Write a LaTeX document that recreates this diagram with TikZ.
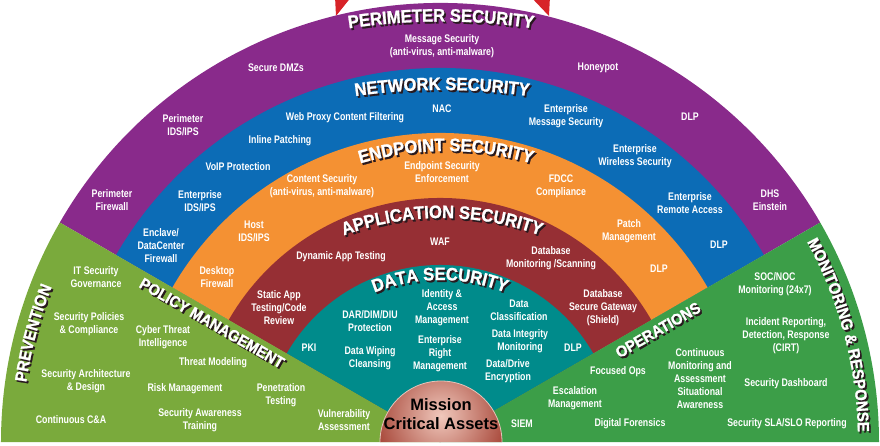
\documentclass[tikz,border=0pt]{standalone}
\usepackage{fontspec}
\setmainfont{Liberation Sans}
\newfontfamily\itemfam{Liberation Sans}[FakeStretch=0.8]
\newfontfamily\ttlfam{Liberation Sans}[FakeStretch=0.92,BoldFeatures={FakeBold=1.2}]
\usetikzlibrary{decorations.text}
\definecolor{cPurple}{RGB}{137,42,139}
\definecolor{cBlue}{RGB}{12,108,182}
\definecolor{cOrange}{RGB}{244,145,51}
\definecolor{cApp}{RGB}{150,47,52}
\definecolor{cTeal}{RGB}{0,139,139}
\definecolor{cGreenL}{RGB}{122,170,60}
\definecolor{cGreenR}{RGB}{60,158,72}
\definecolor{cRed}{RGB}{215,35,40}
\definecolor{cDomeL}{RGB}{240,200,188}
\definecolor{cDomeD}{RGB}{160,58,44}
\definecolor{cDomeRim}{RGB}{228,196,186}
\definecolor{cShadow}{RGB}{40,25,30}
\newcommand\itemfnt{\itemfam\bfseries\fontsize{11}{13}\selectfont}
\newcommand\ttlfnt{\ttlfam\bfseries\fontsize{18}{20}\selectfont}
\newcommand\sidefnt{\ttlfam\bfseries\fontsize{16.6}{18}\selectfont}
\newcommand\monfnt{\ttlfam\bfseries\fontsize{16.2}{18}\selectfont}
\newcommand\polfnt{\ttlfam\bfseries\fontsize{15.8}{18}\selectfont}
\newcommand\mcafnt{\bfseries\fontsize{16.5}{19}\selectfont}
% #1,#2 centre, #3 radius, #4 start, #5 end, #6 font, #7 text
\newcommand\arctitle[7]{%
  \path[decorate,decoration={text along path,text align=center,text color=cShadow,text={|#6|#7}}]
    (#1+1.7,#2-1.9) ++(#4:#3) arc[start angle=#4,end angle=#5,radius=#3];
  \path[decorate,decoration={text along path,text align=center,text color=white,text={|#6|#7}}]
    (#1,#2) ++(#4:#3) arc[start angle=#4,end angle=#5,radius=#3];}
\begin{document}
\begin{tikzpicture}[x=1pt,y=1pt,
  item/.style={text=white,font=\itemfnt,align=center,inner sep=0pt},
  ptitle/.style={text=white,font=\polfnt,inner sep=0pt},
  pshadow/.style={text=cShadow,font=\polfnt,inner sep=0pt}]
\useasboundingbox (-440,-3) rectangle (440,442);
\fill[white] (-440,-3) rectangle (440,442);
% red slivers behind the top
\fill[cRed] (-105,446) -- (-88,446) -- (-104,426) -- cycle;
\fill[cRed] (90,446) -- (110,446) -- (109,426) -- cycle;
% bands
\fill[cPurple] (0,0) -- (150:439) arc[start angle=150,end angle=30,radius=439] -- cycle;
\fill[cBlue]   (0,0) -- (150:374) arc[start angle=150,end angle=30,radius=374] -- cycle;
\fill[cOrange] (0,0) -- (150:309) arc[start angle=150,end angle=30,radius=309] -- cycle;
\fill[cApp]    (0,0) -- (150:244) arc[start angle=150,end angle=30,radius=244] -- cycle;
\fill[cTeal]   (0,0) -- (150:177) arc[start angle=150,end angle=30,radius=177] -- cycle;
\fill[cGreenL] (0,0) -- (180:439) arc[start angle=180,end angle=150,radius=439] -- cycle;
\fill[cGreenR] (0,0) -- (0:439) arc[start angle=0,end angle=30,radius=439] -- cycle;
% dome
\begin{scope}
  \clip (-60,0) arc[start angle=180,end angle=0,radius=61] -- cycle;
  \shade[inner color=cDomeL,outer color=cDomeD] (1,26) circle (74);
\end{scope}
\draw[cDomeRim,line width=0.8pt] (-60,0) arc[start angle=180,end angle=0,radius=61];
% curved titles
\arctitle{1}{-199.5}{620}{102}{78}{\ttlfnt}{PERIMETER SECURITY}
\arctitle{2}{-268}{620}{102}{78}{\ttlfnt}{NETWORK SECURITY}
\arctitle{6}{-11}{302}{120}{60}{\ttlfnt}{ENDPOINT SECURITY}
\arctitle{2}{-61}{285}{125}{55}{\ttlfnt}{APPLICATION SECURITY}
\arctitle{0}{-15}{177}{130}{50}{\ttlfnt}{DATA SECURITY}
\arctitle{0}{0}{418}{180}{150}{\sidefnt}{PREVENTION}
\arctitle{0}{0}{418}{30}{0}{\monfnt}{MONITORING {\&} RESPONSE}
% straight titles
\node[pshadow,rotate=-30] (polmS) at (-226.3,117.1) {POLICY MANAGEMENT};
\node[ptitle,rotate=-30] (polm) at (-228,119) {POLICY MANAGEMENT};
\node[pshadow,rotate=30] (opsS) at (219.7,110.1) {OPERATIONS};
\node[ptitle,rotate=30] (ops) at (218,112) {OPERATIONS};
% items in image coordinates
\begin{scope}[shift={(-440,442)},yscale=-1]
  % perimeter
  \node[item] (pm1) at (442,46) {Message Security\\(anti-virus, anti-malware)};
  \node[item] (pm2) at (276,68) {Secure DMZs};
  \node[item] (pm3) at (598,68) {Honeypot};
  \node[item] (pm4) at (183,125) {Perimeter\\IDS/IPS};
  \node[item] (pm5) at (690,117) {DLP};
  \node[item] (pm6) at (112,200) {Perimeter\\Firewall};
  \node[item] (pm7) at (770,200) {DHS\\Einstein};
  % network
  \node[item] (nw1) at (345,118) {Web Proxy Content Filtering};
  \node[item] (nw2) at (442,109) {NAC};
  \node[item] (nw3) at (566,116) {Enterprise\\Message Security};
  \node[item] (nw4) at (280,141) {Inline Patching};
  \node[item] (nw5) at (635,156) {Enterprise\\Wireless Security};
  \node[item] (nw6) at (238,167) {VoIP Protection};
  \node[item] (nw7) at (200,201) {Enterprise\\IDS/IPS};
  \node[item] (nw8) at (690,203) {Enterprise\\Remote Access};
  \node[item] (nw9) at (161,246) {Enclave/\\DataCenter\\Firewall};
  \node[item] (nw10) at (719,245) {DLP};
  % endpoint
  \node[item] (ep1) at (322,186) {Content Security\\(anti-virus, anti-malware)};
  \node[item] (ep2) at (442,172) {Endpoint Security\\Enforcement};
  \node[item] (ep3) at (561,186) {FDCC\\Compliance};
  \node[item] (ep4) at (254,231) {Host\\IDS/IPS};
  \node[item] (ep5) at (629,231) {Patch\\Management};
  \node[item] (ep6) at (217,277) {Desktop\\Firewall};
  \node[item] (ep7) at (659,269) {DLP};
  % application
  \node[item] (ap1) at (440,242) {WAF};
  \node[item] (ap2) at (341,257) {Dynamic App Testing};
  \node[item] (ap3) at (551,258) {Database\\Monitoring /Scanning};
  \node[item] (ap4) at (279,308) {Static App\\Testing/Code\\Review};
  \node[item] (ap5) at (603,308) {Database\\Secure Gateway\\(Shield)};
  % data
  \node[item] (ds1) at (309,348) {PKI};
  \node[item] (ds2) at (370,321) {DAR/DIM/DIU\\Protection};
  \node[item] (ds3) at (442,308) {Identity \&\\Access\\Management};
  \node[item] (ds4) at (519,310) {Data\\Classification};
  \node[item] (ds5) at (370,358) {Data Wiping\\Cleansing};
  \node[item] (ds6) at (440,354) {Enterprise\\Right\\Management};
  \node[item] (ds7) at (520,341) {Data Integrity\\Monitoring};
  \node[item] (ds8) at (573,348) {DLP};
  \node[item] (ds9) at (508,371) {Data/Drive\\Encryption};
  % prevention / policy
  \node[item] (pv1) at (96,277) {IT Security\\Governance};
  \node[item] (pv2) at (89,324) {Security Policies\\\& Compliance};
  \node[item] (pv3) at (163,337) {Cyber Threat\\Intelligence};
  \node[item] (pv4) at (213,363) {Threat Modeling};
  \node[item] (pv5) at (86,381) {Security Architecture\\\& Design};
  \node[item] (pv6) at (185,389) {Risk Management};
  \node[item] (pv7) at (281,395) {Penetration\\Testing};
  \node[item] (pv8) at (71,420) {Continuous C\&A};
  \node[item] (pv9) at (200,420) {Security Awareness\\Training};
  \node[item] (pv10) at (344,420) {Vulnerability\\Assessment};
  % monitoring / operations
  \node[item] (mr1) at (775,284) {SOC/NOC\\Monitoring (24x7)};
  \node[item] (mr2) at (786,336) {Incident Reporting,\\Detection, Response\\(CIRT)};
  \node[item] (mr3) at (786,384) {Security Dashboard};
  \node[item] (mr4) at (787,424) {Security SLA/SLO Reporting};
  \node[item] (mr5) at (700,379) {Continuous\\Monitoring and\\Assessment\\Situational\\Awareness};
  \node[item] (mr6) at (618,372) {Focused Ops};
  \node[item] (mr7) at (575,398) {Escalation\\Management};
  \node[item] (mr8) at (522,424) {SIEM};
  \node[item] (mr9) at (630,424) {Digital Forensics};
  % centre
  \node[font=\mcafnt,text=black,align=center,inner sep=0pt] (mca) at (441,414) {Mission\\Critical Assets};
\end{scope}
\end{tikzpicture}
\end{document}
